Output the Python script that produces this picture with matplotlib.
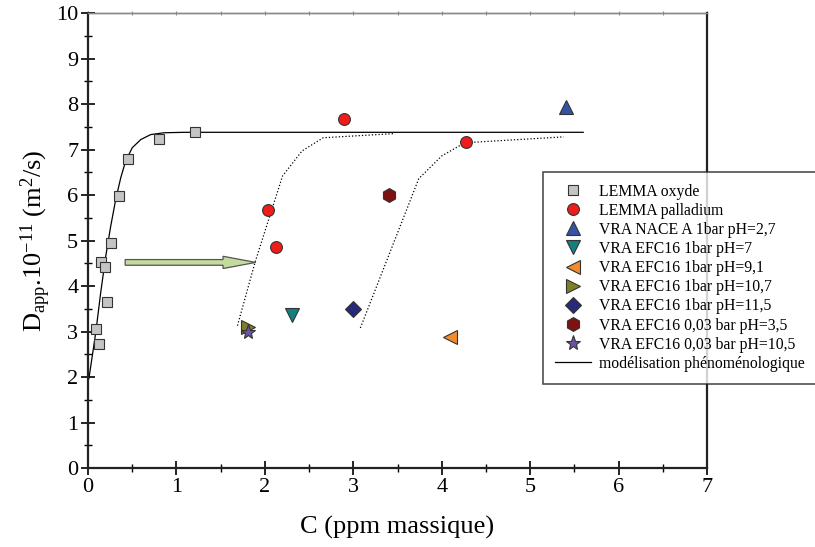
import matplotlib
matplotlib.use('Agg')
import matplotlib.pyplot as plt
from matplotlib.patches import FancyArrow

plt.rcParams['font.family'] = ['Liberation Serif', 'DejaVu Serif']
plt.rcParams['mathtext.fontset'] = 'custom'
plt.rcParams['mathtext.rm'] = 'Liberation Serif'
plt.rcParams['mathtext.it'] = 'Liberation Serif:italic'

# LEMMA oxyde (carres gris)
oxyde_c = [0.087, 0.128, 0.143, 0.196, 0.22, 0.264, 0.35, 0.456, 0.80, 1.21]
oxyde_d = [3.05, 2.72, 4.52, 4.42, 3.66, 4.94, 5.97, 6.80, 7.23, 7.39]

# LEMMA palladium (ronds rouges)
pd_c = [2.04, 2.13, 2.89, 4.27]
pd_d = [5.68, 4.85, 7.67, 7.17]

# points VRA, un par serie
vra_labels = ['VRA NACE A 1bar pH=2,7', 'VRA EFC16 1bar pH=7', 'VRA EFC16 1bar pH=9,1',
              'VRA EFC16 1bar pH=10,7', 'VRA EFC16 1bar pH=11,5',
              'VRA EFC16 0,03 bar pH=3,5', 'VRA EFC16 0,03 bar pH=10,5']
vra_c = [5.40, 2.31, 4.09, 1.81, 3.00, 3.40, 1.81]
vra_d = [7.94, 3.36, 2.89, 3.10, 3.49, 6.00, 2.99]
vra_markers = ['^', 'v', '<', '>', 'D', 'h', '*']
vra_colors = ['#3553a5', '#13807f', '#f28a2e', '#7f7f2a', '#262a78', '#7d1212', '#6b52a8']
vra_sizes = [10, 10, 10, 10, 8, 10, 11]

# modelisation phenomenologique
model_c = [0.0, 0.011, 0.087, 0.143, 0.20, 0.256, 0.313, 0.37, 0.426, 0.50, 0.596,
           0.709, 0.86, 1.09, 1.3, 5.6]
model_d = [1.92, 1.98, 2.97, 3.85, 4.65, 5.31, 5.90, 6.38, 6.75, 7.04, 7.22,
           7.33, 7.37, 7.38, 7.38, 7.38]

# courbes pointillees
dot1_c = [1.69, 1.89, 2.20, 2.42, 2.66, 3.45]
dot1_d = [3.13, 4.53, 6.42, 6.97, 7.26, 7.35]
dot2_c = [3.08, 3.74, 4.00, 4.26, 5.38]
dot2_d = [3.08, 6.36, 6.86, 7.15, 7.28]

fig = plt.figure(figsize=(8.15, 5.47), dpi=100)
ax = fig.add_axes([0.108, 0.1444, 0.7595, 0.8316])

ax.plot(oxyde_c, oxyde_d, 's', color='#c4c4c4', markeredgecolor='#333333',
        markeredgewidth=0.8, markersize=7.5, label='LEMMA oxyde', zorder=3)
ax.plot(pd_c, pd_d, 'o', color='#f01c1c', markeredgecolor='#333333',
        markeredgewidth=0.8, markersize=8.5, label='LEMMA palladium', zorder=3)
for c, d, m, col, s, lab in zip(vra_c, vra_d, vra_markers, vra_colors, vra_sizes, vra_labels):
    ax.plot([c], [d], m, color=col, markeredgecolor='#333333', markeredgewidth=0.8,
            markersize=s, label=lab, zorder=3)

ax.plot(model_c, model_d, '-', color='black', lw=0.9, label='modélisation phénoménologique', zorder=2)
ax.plot(dot1_c, dot1_d, ':', color='black', lw=0.9, zorder=2)
ax.plot(dot2_c, dot2_d, ':', color='black', lw=0.9, zorder=2)

arr = FancyArrow(0.42, 4.52, 1.477, 0, width=0.125, head_width=0.27, head_length=0.37,
                 length_includes_head=True, facecolor='#c3db9c', edgecolor='#555555', lw=0.9, zorder=2)
ax.add_patch(arr)

ax.set_xlim(0, 7)
ax.set_ylim(0, 10)
ax.set_xticks(range(0, 8))
ax.set_yticks(range(0, 11))
ax.set_xticks([i + 0.5 for i in range(7)], minor=True)
ax.set_yticks([i + 0.5 for i in range(10)], minor=True)
ax.tick_params(which='major', direction='inout', length=10, width=1.2, labelsize=16, pad=2)
ax.tick_params(which='minor', direction='inout', length=6, width=1.0)
for s in ['left', 'bottom', 'right']:
    ax.spines[s].set_linewidth(1.6)
    ax.spines[s].set_color('#222222')
ax.spines['top'].set_linewidth(1.0)
ax.spines['top'].set_color('#888888')

# petites graduations grises en haut
top = ax.secondary_xaxis('top')
top.set_xticks([i * 0.5 for i in range(15)])
top.tick_params(direction='inout', length=3, width=0.8, color='#888888', labeltop=False)
top.spines['top'].set_color('#888888')
top.spines['top'].set_linewidth(1.0)

ax.set_xlabel('C (ppm massique)', fontsize=19, labelpad=14)
ax.set_ylabel(r'D$_{\mathrm{app}}$.10$^{\mathrm{-11}}$ (m$^{2}$/s)', fontsize=19, labelpad=2)

leg = ax.legend(loc='upper left', bbox_to_anchor=(0.666, 0.686), bbox_transform=fig.transFigure,
                fontsize=11.3, frameon=True, fancybox=False, edgecolor='#222222',
                handlelength=2.3, handletextpad=0.5, labelspacing=0.2, borderpad=0.75,
                borderaxespad=0, numpoints=1)
leg.get_frame().set_linewidth(1.2)
leg.set_zorder(10)

fig.savefig('out.png', dpi=100)
